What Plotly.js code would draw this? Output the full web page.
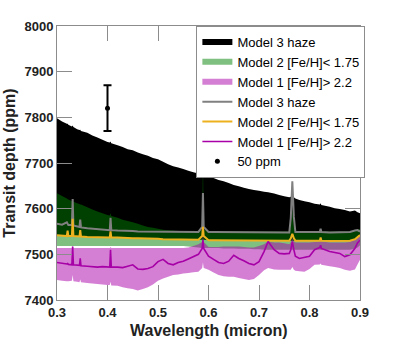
<!DOCTYPE html>
<html>
<head>
<meta charset="utf-8">
<script src="https://cdn.plot.ly/plotly-3.0.1.min.js"></script>
<style>
  html, body { margin: 0; padding: 0; background: #fff; }
  #plot { width: 399px; height: 341px; }
</style>
</head>
<body>
<div id="plot"></div>
<script>
// wavelength grid (micron), shared by every series below
const wave = [
  0.300, 0.310, 0.3195, 0.321, 0.3225, 0.3295, 0.331, 0.3325, 0.340, 0.3445,
  0.346, 0.3475, 0.360, 0.370, 0.380, 0.390, 0.400, 0.4045, 0.406, 0.4075,
  0.420, 0.430, 0.440, 0.450, 0.460, 0.470, 0.480, 0.490, 0.500, 0.510,
  0.520, 0.530, 0.540, 0.550, 0.560, 0.570, 0.580, 0.5875, 0.589, 0.5905,
  0.600, 0.610, 0.620, 0.630, 0.640, 0.650, 0.660, 0.670, 0.680, 0.690,
  0.700, 0.710, 0.718, 0.730, 0.740, 0.750, 0.760, 0.763, 0.766, 0.769,
  0.772, 0.780, 0.790, 0.800, 0.810, 0.8205, 0.822, 0.8235, 0.840, 0.850,
  0.860, 0.870, 0.880, 0.890, 0.895, 0.900
];

// Model 3 haze range (ppm)
const hazeTop = [
  7798, 7791, 7786, 7786, 7784, 7780, 7782, 7779, 7774, 7772,
  7773, 7770, 7766, 7760, 7756, 7751, 7746, 7745, 7747, 7743,
  7739, 7735, 7730, 7728, 7723, 7719, 7716, 7711, 7708, 7703,
  7697, 7693, 7690, 7687, 7683, 7680, 7677, 7676, 7766, 7675,
  7670, 7667, 7663, 7660, 7656, 7652, 7649, 7646, 7643, 7641,
  7639, 7637, 7636, 7633, 7630, 7627, 7625, 7626, 7630, 7625,
  7622, 7619, 7616, 7614, 7611, 7609, 7612, 7608, 7604, 7601,
  7599, 7597, 7594, 7596, 7592, 7590
];
const hazeBot = [
  7542, 7541, 7540, 7540, 7540, 7540, 7540, 7540, 7539, 7539,
  7539, 7539, 7538, 7538, 7538, 7537, 7537, 7537, 7537, 7537,
  7537, 7536, 7536, 7535, 7535, 7535, 7534, 7534, 7534, 7533,
  7533, 7533, 7532, 7532, 7532, 7532, 7532, 7532, 7532, 7532,
  7531, 7531, 7531, 7531, 7531, 7531, 7531, 7531, 7531, 7531,
  7531, 7530, 7530, 7530, 7530, 7530, 7530, 7530, 7530, 7530,
  7530, 7530, 7530, 7530, 7530, 7530, 7530, 7530, 7529, 7529,
  7529, 7529, 7530, 7533, 7536, 7540
];

// Model 2 [Fe/H] < 1.75 range
const m2Top = [
  7634, 7628, 7622, 7621, 7620, 7617, 7616, 7615, 7612, 7610,
  7609, 7609, 7603, 7598, 7594, 7590, 7586, 7585, 7590, 7584,
  7580, 7576, 7573, 7570, 7567, 7563, 7560, 7558, 7556, 7554,
  7553, 7552, 7551, 7550, 7550, 7550, 7550, 7555, 7720, 7555,
  7550, 7550, 7550, 7550, 7550, 7550, 7550, 7550, 7550, 7550,
  7550, 7550, 7550, 7550, 7550, 7550, 7550, 7560, 7600, 7560,
  7550, 7550, 7550, 7550, 7550, 7550, 7552, 7550, 7550, 7550,
  7550, 7550, 7550, 7550, 7553, 7556
];
const m2Bot = [
  7518, 7518, 7518, 7518, 7518, 7518, 7518, 7518, 7518, 7518,
  7518, 7518, 7518, 7518, 7518, 7518, 7518, 7518, 7518, 7518,
  7518, 7518, 7518, 7518, 7518, 7518, 7518, 7518, 7518, 7518,
  7518, 7518, 7518, 7518, 7517, 7516, 7515, 7514, 7514, 7514,
  7514, 7514, 7514, 7513, 7513, 7513, 7512, 7512, 7512, 7511,
  7511, 7510, 7510, 7510, 7510, 7510, 7510, 7510, 7510, 7510,
  7510, 7510, 7510, 7510, 7510, 7510, 7510, 7510, 7510, 7510,
  7510, 7510, 7510, 7512, 7515, 7520
];

// Model 1 [Fe/H] > 2.2 range
const m1Top = [
  7514, 7514, 7514, 7514, 7514, 7514, 7518, 7514, 7514, 7514,
  7514, 7514, 7514, 7514, 7514, 7514, 7514, 7514, 7516, 7514,
  7514, 7514, 7514, 7514, 7514, 7514, 7514, 7514, 7514, 7514,
  7514, 7514, 7514, 7514, 7515, 7518, 7522, 7527, 7545, 7527,
  7516, 7516, 7516, 7517, 7517, 7517, 7517, 7516, 7515, 7515,
  7518, 7522, 7528, 7526, 7526, 7524, 7522, 7526, 7535, 7528,
  7526, 7526, 7526, 7526, 7527, 7528, 7532, 7528, 7526, 7526,
  7526, 7526, 7527, 7533, 7538, 7545
];
const m1Bot = [
  7444, 7442, 7441, 7441, 7441, 7442, 7455, 7441, 7440, 7439,
  7445, 7439, 7437, 7436, 7435, 7434, 7433, 7433, 7440, 7432,
  7431, 7428, 7426, 7424, 7421, 7424, 7428, 7434, 7442, 7447,
  7451, 7455, 7456, 7458, 7459, 7461, 7462, 7470, 7482, 7470,
  7466, 7460, 7455, 7452, 7451, 7451, 7448, 7446, 7444, 7446,
  7455, 7465, 7470, 7467, 7466, 7466, 7466, 7466, 7472, 7466,
  7464, 7463, 7462, 7468, 7477, 7478, 7480, 7477, 7474, 7472,
  7470, 7466, 7464, 7467, 7478, 7488
];

// best-fit spectra
const m3Line = [
  7567, 7565, 7570, 7566, 7564, 7564, 7621, 7563, 7561, 7560,
  7576, 7559, 7557, 7556, 7555, 7554, 7553, 7553, 7580, 7553,
  7552, 7552, 7551, 7551, 7550, 7550, 7550, 7550, 7549, 7549,
  7549, 7549, 7549, 7549, 7549, 7549, 7549, 7560, 7634, 7560,
  7549, 7549, 7549, 7549, 7549, 7549, 7549, 7548, 7548, 7548,
  7548, 7548, 7548, 7548, 7548, 7548, 7548, 7580, 7660, 7582,
  7549, 7549, 7549, 7549, 7549, 7549, 7556, 7549, 7548, 7548,
  7548, 7548, 7549, 7552, 7553, 7550
];
const m2Line = [
  7542, 7541, 7540, 7552, 7540, 7540, 7578, 7540, 7539, 7539,
  7553, 7539, 7538, 7538, 7538, 7537, 7537, 7537, 7550, 7537,
  7537, 7536, 7536, 7535, 7535, 7535, 7534, 7534, 7534, 7533,
  7533, 7533, 7532, 7532, 7532, 7532, 7532, 7540, 7560, 7540,
  7531, 7531, 7531, 7531, 7531, 7531, 7531, 7531, 7531, 7531,
  7531, 7530, 7530, 7530, 7530, 7530, 7530, 7535, 7545, 7535,
  7530, 7530, 7530, 7530, 7530, 7530, 7537, 7530, 7529, 7529,
  7529, 7529, 7530, 7533, 7537, 7542
];
const m1Line = [
  7482, 7480, 7479, 7480, 7478, 7477, 7517, 7477, 7477, 7476,
  7491, 7475, 7474, 7473, 7472, 7473, 7472, 7472, 7510, 7472,
  7472, 7471, 7474, 7477, 7468, 7467, 7469, 7473, 7484, 7489,
  7480, 7477, 7482, 7485, 7490, 7495, 7500, 7513, 7531, 7513,
  7496, 7489, 7482, 7480, 7485, 7498, 7491, 7486, 7480, 7477,
  7484, 7506, 7528, 7510, 7502, 7501, 7502, 7510, 7528, 7510,
  7496, 7491, 7493, 7496, 7510, 7515, 7520, 7513, 7506, 7504,
  7502, 7495, 7499, 7513, 7525, 7531
];

// typical error bar
const errX = [0.4];
const errY = [7820];
const errSize = [50];

function band(top, bot) {
  return {
    x: wave.concat(wave.slice().reverse()),
    y: top.concat(bot.slice().reverse())
  };
}

const hz = band(hazeTop, hazeBot);
const b2 = band(m2Top, m2Bot);
const b1 = band(m1Top, m1Bot);

const traces = [
  { x: hz.x, y: hz.y, type: 'scatter', mode: 'none', fill: 'toself',
    fillcolor: '#000000', name: 'Model 3 haze' },
  { x: b2.x, y: b2.y, type: 'scatter', mode: 'none', fill: 'toself',
    fillcolor: 'rgba(0,128,0,0.5)', name: 'Model 2 [Fe/H]< 1.75' },
  { x: b1.x, y: b1.y, type: 'scatter', mode: 'none', fill: 'toself',
    fillcolor: 'rgba(170,0,170,0.5)', name: 'Model 1 [Fe/H]> 2.2' },
  { x: wave, y: m3Line, type: 'scatter', mode: 'lines',
    line: { color: '#808080', width: 2 }, name: 'Model 3 haze' },
  { x: wave, y: m2Line, type: 'scatter', mode: 'lines',
    line: { color: '#EDB120', width: 2 }, name: 'Model 2 [Fe/H]< 1.75' },
  { x: wave, y: m1Line, type: 'scatter', mode: 'lines',
    line: { color: '#A600A6', width: 1.6 }, name: 'Model 1 [Fe/H]> 2.2' },
  { x: errX, y: errY, type: 'scatter', mode: 'markers',
    marker: { color: '#000', size: 5 },
    error_y: { type: 'data', array: errSize, visible: true, color: '#000',
               thickness: 2, width: 4 },
    name: '50 ppm' }
];

const font = 'Liberation Sans, Arial, sans-serif';

const axisBase = {
  showline: true, mirror: 'ticks', linecolor: '#8c8c8c', linewidth: 1,
  ticks: 'inside', ticklen: 15, tickwidth: 1, tickcolor: '#8c8c8c',
  showgrid: false, zeroline: false,
  tickfont: { family: font, size: 13, color: '#222', weight: 'bold' }
};

const layout = {
  width: 399, height: 341,
  margin: { l: 57, r: 39, t: 26, b: 41 },
  paper_bgcolor: '#fff', plot_bgcolor: '#fff',
  showlegend: true,
  legend: {
    x: 0.46, y: 1, xanchor: 'left', yanchor: 'top',
    bgcolor: '#fff', bordercolor: '#8c8c8c', borderwidth: 1,
    font: { family: font, size: 13, color: '#000' },
    tracegroupgap: 0
  },
  xaxis: Object.assign({}, axisBase, {
    range: [0.3, 0.9], dtick: 0.1, tick0: 0.3
  }),
  yaxis: Object.assign({}, axisBase, {
    range: [7400, 8000], dtick: 100,
    title: { text: 'Transit depth (ppm)', standoff: 4,
             font: { family: font, size: 16, color: '#222', weight: 'bold' } }
  }),
  // x title as an annotation so it can sit lower than the margin allows
  annotations: [{
    text: 'Wavelength (micron)', xref: 'paper', yref: 'paper',
    x: 0.5, y: -0.113, xanchor: 'center', yanchor: 'middle', showarrow: false,
    font: { family: font, size: 16, color: '#222', weight: 'bold' }
  }]
};

Plotly.newPlot('plot', traces, layout, { staticPlot: true, displayModeBar: false });
</script>
</body>
</html>
